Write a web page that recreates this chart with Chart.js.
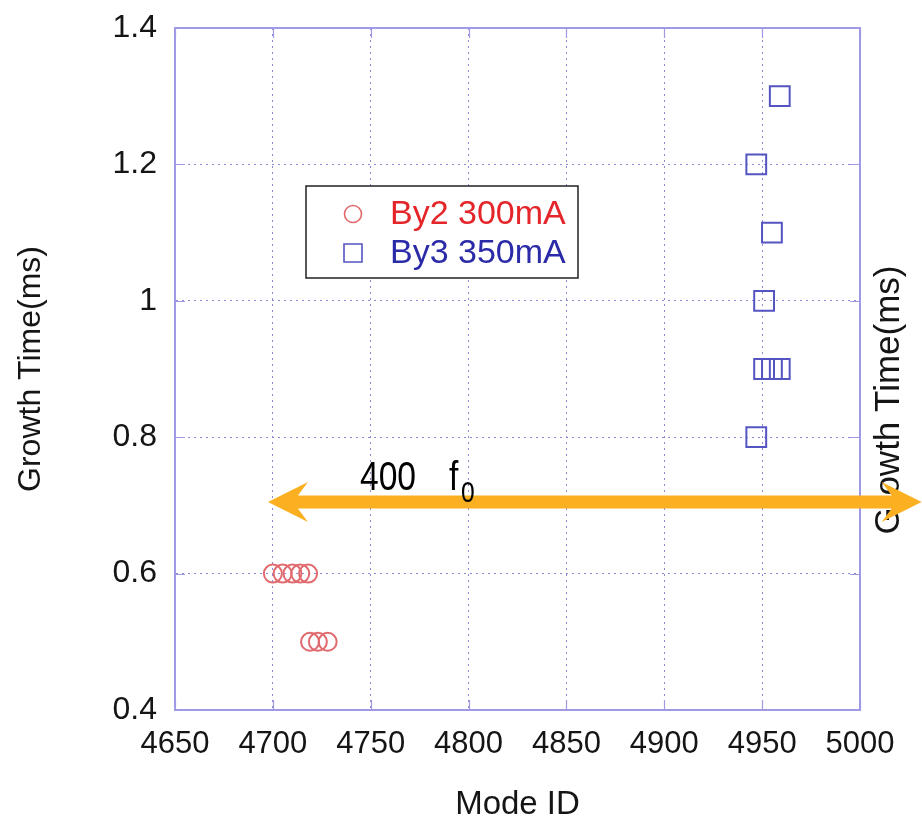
<!DOCTYPE html>
<html>
<head>
<meta charset="utf-8">
<title>Growth Time vs Mode ID</title>
<script src="https://cdn.jsdelivr.net/npm/chart.js@4.4.1/dist/chart.umd.min.js"></script>
<style>
    html, body { margin: 0; padding: 0; background: #ffffff; }
    #wrap { width: 922px; height: 827px; }
</style>
</head>
<body>
<div id="wrap"><canvas id="growthChart" width="922" height="827"></canvas></div>
<script>
(function () {
    'use strict';

    // ============================================================
    // DATA
    // ============================================================
    const by2ModeId = [4700, 4705, 4710, 4714, 4718, 4719, 4723, 4728];
    const by2Growth = [0.6, 0.6, 0.6, 0.6, 0.6, 0.5, 0.5, 0.5];

    const by3ModeId = [4959, 4947, 4955, 4951, 4951, 4955, 4959, 4947];
    const by3Growth = [1.3, 1.2, 1.1, 1.0, 0.9, 0.9, 0.9, 0.8];

    const xTickValues = [4650, 4700, 4750, 4800, 4850, 4900, 4950, 5000];
    const xTickLabels = ['4650', '4700', '4750', '4800', '4850', '4900', '4950', '5000'];
    const yTickValues = [0.4, 0.6, 0.8, 1.0, 1.2, 1.4];
    const yTickLabels = ['0.4', '0.6', '0.8', '1', '1.2', '1.4'];

    // span of the 400 f0 marker, in axis units
    const spanModeId = [4697.5, 5031.5];
    const spanGrowth = [0.705, 0.705];

    // ============================================================
    // STYLE
    // ============================================================
    const FONT = '"Liberation Sans", Arial, sans-serif';
    const frameColor = '#9f99e6';
    const gridColor = '#8a8ad2';
    const textColor = '#151515';
    const arrowColor = '#fbb022';

    // ============================================================
    // PLUGINS
    // ============================================================
    // top/right frame lines plus inward tick marks on every side
    const framePlugin = {
        id: 'frame',
        afterDatasetsDraw(chart) {
            const { ctx, chartArea: a, scales: { x, y } } = chart;
            const len = 10;
            ctx.save();
            ctx.strokeStyle = frameColor;
            ctx.lineWidth = 2;
            ctx.beginPath();
            ctx.moveTo(a.left, a.top);
            ctx.lineTo(a.right, a.top);
            ctx.lineTo(a.right, a.bottom);
            ctx.stroke();
            ctx.lineWidth = 1.2;
            ctx.beginPath();
            xTickValues.forEach(v => {
                const px = Math.round(x.getPixelForValue(v)) + 0.5;
                ctx.moveTo(px, a.bottom); ctx.lineTo(px, a.bottom - len);
                ctx.moveTo(px, a.top); ctx.lineTo(px, a.top + len);
            });
            yTickValues.forEach(v => {
                const py = Math.round(y.getPixelForValue(v)) + 0.5;
                ctx.moveTo(a.left, py); ctx.lineTo(a.left + len, py);
                ctx.moveTo(a.right, py); ctx.lineTo(a.right - len, py);
            });
            ctx.stroke();
            ctx.restore();
        }
    };

    // boxed legend inside the plot
    const legendBoxPlugin = {
        id: 'legendBox',
        afterDatasetsDraw(chart) {
            const { ctx, chartArea: a } = chart;
            const bx = a.left + 131, by = a.top + 158, bw = 272, bh = 92;
            ctx.save();
            ctx.fillStyle = '#ffffff';
            ctx.fillRect(bx, by, bw, bh);
            ctx.strokeStyle = '#222222';
            ctx.lineWidth = 1.5;
            ctx.strokeRect(bx, by, bw, bh);

            const rows = [
                { ds: chart.data.datasets[0], text: '#e4262b', cy: by + 28 },
                { ds: chart.data.datasets[1], text: '#2b2ba8', cy: by + 67 }
            ];
            rows.forEach(r => {
                ctx.strokeStyle = r.ds.borderColor;
                ctx.lineWidth = 1.6;
                ctx.beginPath();
                if (r.ds.pointStyle === 'circle') {
                    ctx.arc(bx + 47, r.cy, 8.5, 0, Math.PI * 2);
                } else {
                    ctx.rect(bx + 38, r.cy - 9, 18, 18);
                }
                ctx.stroke();
                ctx.fillStyle = r.text;
                ctx.font = '34px ' + FONT;
                ctx.textAlign = 'left';
                ctx.textBaseline = 'middle';
                ctx.fillText(r.ds.label, bx + 84, r.cy + 1);
            });
            ctx.restore();
        }
    };

    // neighbouring panel's axis title and the 400 f0 double arrow
    const arrowPlugin = {
        id: 'spanArrow',
        afterDraw(chart) {
            const { ctx, scales: { x, y } } = chart;

            ctx.save();
            ctx.fillStyle = textColor;
            ctx.font = '35px ' + FONT;
            ctx.textAlign = 'center';
            ctx.textBaseline = 'middle';
            ctx.translate(889, 400);
            ctx.rotate(-Math.PI / 2);
            ctx.fillText('Growth Time(ms)', 0, 0);
            ctx.restore();

            const x0 = x.getPixelForValue(spanModeId[0]);
            const x1 = x.getPixelForValue(spanModeId[1]);
            const yc = y.getPixelForValue(spanGrowth[0]);
            const half = 6.5, head = 40, barb = 20, notch = 10;

            ctx.save();
            ctx.fillStyle = arrowColor;
            ctx.beginPath();
            ctx.moveTo(x0, yc);
            ctx.lineTo(x0 + head, yc - barb);
            ctx.lineTo(x0 + head - notch, yc - half);
            ctx.lineTo(x1 - head + notch, yc - half);
            ctx.lineTo(x1 - head, yc - barb);
            ctx.lineTo(x1, yc);
            ctx.lineTo(x1 - head, yc + barb);
            ctx.lineTo(x1 - head + notch, yc + half);
            ctx.lineTo(x0 + head - notch, yc + half);
            ctx.lineTo(x0 + head, yc + barb);
            ctx.closePath();
            ctx.fill();
            ctx.restore();

            // condensed label: regular face squeezed horizontally
            ctx.save();
            ctx.fillStyle = '#000000';
            ctx.textAlign = 'left';
            ctx.textBaseline = 'alphabetic';
            ctx.translate(x0, yc);
            ctx.scale(0.82, 1);
            ctx.font = '41px ' + FONT;
            ctx.fillText('400', 92 / 0.82, -12);
            ctx.fillText('f', 181 / 0.82, -12);
            ctx.font = '30px ' + FONT;
            ctx.fillText('0', 193 / 0.82, 0);
            ctx.restore();
        }
    };

    // ============================================================
    // CHART
    // ============================================================
    const toPoints = (xs, ys) => xs.map((v, i) => ({ x: v, y: ys[i] }));

    const ctx = document.getElementById('growthChart');

    new Chart(ctx, {
        type: 'scatter',
        data: {
            datasets: [{
                label: 'By2 300mA',
                data: toPoints(by2ModeId, by2Growth),
                pointStyle: 'circle',
                pointRadius: 9,
                borderColor: '#e06a6e',
                backgroundColor: 'rgba(0,0,0,0)',
                pointBorderWidth: 2
            }, {
                label: 'By3 350mA',
                data: toPoints(by3ModeId, by3Growth),
                pointStyle: 'rect',
                pointRadius: 14,
                borderColor: '#5454c2',
                backgroundColor: 'rgba(0,0,0,0)',
                pointBorderWidth: 2
            }]
        },
        options: {
            responsive: false,
            animation: false,
            layout: { padding: { left: 0, right: 62, top: 28, bottom: 0 } },
            plugins: {
                legend: { display: false },
                tooltip: { enabled: false }
            },
            scales: {
                x: {
                    type: 'linear',
                    min: 4650,
                    max: 5000,
                    afterBuildTicks: (s) => { s.ticks = xTickValues.map(v => ({ value: v })); },
                    afterFit: (s) => {
                        s.height = 117;
                        s.paddingLeft = 0;
                        s.paddingRight = 0;
                    },
                    ticks: {
                        autoSkip: false,
                        maxRotation: 0,
                        padding: 16,
                        color: textColor,
                        font: { family: FONT, size: 31 },
                        callback: (v, i) => xTickLabels[i]
                    },
                    grid: { color: gridColor, lineWidth: 1, drawTicks: false },
                    border: { color: frameColor, width: 2, dash: [2, 4] },
                    title: {
                        display: true,
                        text: 'Mode ID',
                        color: textColor,
                        font: { family: FONT, size: 33 },
                        padding: { top: 0, bottom: 2 }
                    }
                },
                y: {
                    type: 'linear',
                    min: 0.4,
                    max: 1.4,
                    afterBuildTicks: (s) => { s.ticks = yTickValues.map(v => ({ value: v })); },
                    afterFit: (s) => {
                        s.width = 175;
                        s.paddingTop = 0;
                        s.paddingBottom = 0;
                    },
                    ticks: {
                        padding: 18,
                        color: textColor,
                        font: { family: FONT, size: 32 },
                        callback: (v, i) => yTickLabels[i]
                    },
                    grid: { color: gridColor, lineWidth: 1, drawTicks: false },
                    border: { color: frameColor, width: 2, dash: [2, 4] },
                    title: {
                        display: true,
                        text: 'Growth Time(ms)',
                        color: textColor,
                        font: { family: FONT, size: 32 },
                        padding: { top: 12, bottom: 0 }
                    }
                }
            }
        },
        plugins: [framePlugin, legendBoxPlugin, arrowPlugin]
    });
})();
</script>
</body>
</html>
